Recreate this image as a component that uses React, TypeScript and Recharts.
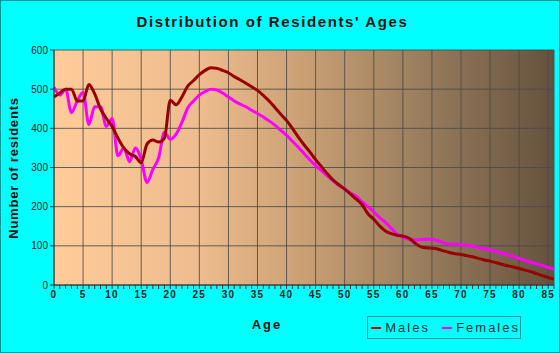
import { LineChart, Line, XAxis, YAxis, CartesianGrid, Label } from "recharts";

const ages: number[] = Array.from({ length: 87 }, (_, i) => i);

const males: number[] = [
  480, 490, 500, 500, 470, 470, 512, 488, 450, 425,
  405, 375, 350, 335, 328, 312, 360, 370, 365, 375,
  472, 460, 480, 508, 522, 537, 548, 555, 553, 548,
  542, 532, 524, 515, 506, 497, 484, 470, 453, 436,
  420, 400, 378, 358, 340, 320, 302, 284, 268, 256,
  245, 232, 219, 205, 182, 168, 151, 138, 131, 127,
  125, 120, 108, 98, 95, 94, 92, 87, 83, 80,
  78, 75, 72, 68, 64, 61, 57, 53, 49, 46,
  42, 38, 34, 29, 24, 19, 15,
];

const females: number[] = [
  505, 485, 500, 440, 470, 492, 410, 455, 455, 405,
  425, 330, 350, 315, 350, 320, 262, 295, 325, 390,
  372, 385, 415, 452, 470, 485, 494, 500, 498, 490,
  480, 470, 462, 455, 446, 438, 429, 419, 408, 395,
  382, 367, 352, 336, 320, 305, 292, 279, 266, 254,
  245, 235, 226, 212, 200, 187, 172, 160, 145, 130,
  122, 117, 115, 116, 117, 117, 113, 108, 105, 104,
  103, 102, 99, 96, 93, 90, 86, 81, 77, 73,
  68, 63, 58, 54, 50, 45, 40,
];

const majorTicks = [0, 5, 10, 15, 20, 25, 30, 35, 40, 45, 50, 55, 60, 65, 70, 75, 80, 85];
const yTicks = [0, 100, 200, 300, 400, 500, 600];

const data = ages.map((age, i) => ({ age, males: males[i], females: females[i] }));

const font = "'Liberation Sans', Arial, sans-serif";

export default function App() {
  return (
    <div style={{ position: "fixed", left: 0, top: 0, width: 560, height: 353, background: "#00FFFF", fontFamily: font }}>
      <div
        style={{
          position: "absolute", left: 0, top: 13, width: 545, textAlign: "center",
          fontSize: 15, fontWeight: "bold", letterSpacing: 1.6, color: "#111",
        }}
      >
        Distribution of Residents' Ages
      </div>
      <LineChart width={560} height={353} data={data} margin={{ top: 50, right: 6, bottom: 38, left: 0 }}>
        <defs>
          <linearGradient id="bg" x1="0" y1="0" x2="1" y2="0">
            <stop offset="0%" stopColor="#FFCC99" />
            <stop offset="30%" stopColor="#EDBB8D" />
            <stop offset="50%" stopColor="#C9A074" />
            <stop offset="75%" stopColor="#967B5C" />
            <stop offset="100%" stopColor="#65513E" />
          </linearGradient>
        </defs>
        <CartesianGrid xAxisId="major" fill="url(#bg)" stroke="#4a4a4a" strokeOpacity={0.85} />
        <XAxis xAxisId="major" dataKey="age" type="number" domain={[0, 86]} ticks={majorTicks} hide />
        <XAxis
          xAxisId="ages"
          dataKey="age"
          type="number"
          domain={[0, 86]}
          ticks={ages}
          interval={0}
          tickFormatter={(v: number) => (v % 5 === 0 ? String(v) : "")}
          tickSize={4}
          height={30}
          axisLine={{ stroke: "#333" }}
          tickLine={{ stroke: "#333" }}
          tick={{ fontSize: 10, fontWeight: "bold", fill: "#222", letterSpacing: 1.2, fontFamily: font }}
        >
          <Label
            content={() => (
              <text x={267} y={329} textAnchor="middle" fontSize={13} fontWeight="bold" letterSpacing={2} fill="#111" fontFamily={font}>
                Age
              </text>
            )}
          />
        </XAxis>
        <YAxis
          width={54}
          domain={[0, 600]}
          ticks={yTicks}
          tickSize={4}
          axisLine={{ stroke: "#333" }}
          tickLine={{ stroke: "#333" }}
          tick={{ fontSize: 10, fill: "#222", fontFamily: font }}
        >
          <Label
            content={() => (
              <text
                x={18}
                y={168}
                transform="rotate(-90 18 168)"
                textAnchor="middle"
                fontSize={13}
                fontWeight="bold"
                letterSpacing={0.8}
                fill="#111"
                fontFamily={font}
              >
                Number of residents
              </text>
            )}
          />
        </YAxis>
        <Line xAxisId="ages" type="monotone" dataKey="females" stroke="#FF00FF" strokeWidth={3} dot={false} isAnimationActive={false} />
        <Line xAxisId="ages" type="monotone" dataKey="males" stroke="#990000" strokeWidth={3} dot={false} isAnimationActive={false} />
      </LineChart>
      <div
        style={{
          position: "absolute", left: 367, top: 316, width: 154, height: 23, boxSizing: "border-box",
          border: "1px solid #009999", display: "flex", alignItems: "center", fontSize: 13,
          letterSpacing: 2, color: "#113333",
        }}
      >
        <span style={{ display: "inline-block", width: 12, height: 2, background: "#CC0000", marginLeft: 3, marginRight: 4 }} />
        <span>Males</span>
        <span style={{ display: "inline-block", width: 12, height: 2, background: "#FF00FF", marginLeft: 12, marginRight: 4 }} />
        <span>Females</span>
      </div>
      <div style={{ position: "absolute", inset: 0, border: "1px solid #009999", pointerEvents: "none" }} />
    </div>
  );
}
